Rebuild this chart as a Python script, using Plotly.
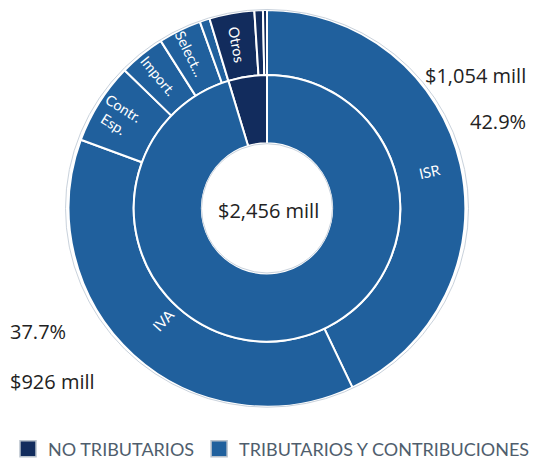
import math
import plotly.graph_objects as go

# ---- data ----
group_labels = ["NO TRIBUTARIOS", "TRIBUTARIOS Y CONTRIBUCIONES"]
group_values = [115, 2341]

item_labels = ["ISR", "IVA", "Contr. Esp.", "Import.", "Selectivo", "Otros tributarios",
               "Otros", "Otros no trib. 1", "Otros no trib. 2"]
item_values = [1054, 926, 163, 92, 86, 20, 90, 17, 8]
item_text = ["ISR", "IVA", "Contr.<br>Esp.", "Import.", "Select...", "", "Otros", "", ""]
item_group = ["T", "T", "T", "T", "T", "T", "N", "N", "N"]

total_label = "$2,456 mill"
isr_amount, isr_pct = "$1,054 mill", "42.9%"
iva_amount, iva_pct = "$926 mill", "37.7%"

# ---- style ----
OFF = 8                      # page body margin
W, H = 538 - OFF, 468 - OFF  # figure size
BLUE = "#20609d"
NAVY = "#122c5d"
cx, cy = 267, 211            # centre in window px (from top-left)
R_OUT, R_MID, R_IN = 201, 135, 66
label_r = [167, 154, 176, 173, 175, 170, 169, 170, 170]

def fx(px):
    return (px - OFF) / W

def fy(py):
    return (H - (py - OFF)) / H

def dom(r):
    return dict(x=[fx(cx - r), fx(cx + r)], y=[fy(cy + r), fy(cy - r)])

fig = go.Figure()

fig.add_trace(go.Pie(
    labels=item_labels, values=item_values,
    textinfo="none", sort=False, direction="clockwise", rotation=0,
    hole=R_MID / R_OUT, domain=dom(R_OUT),
    marker=dict(colors=[BLUE if g == "T" else NAVY for g in item_group],
                line=dict(color="white", width=2)),
    showlegend=False, hoverinfo="label+value",
))

inner_rot = -360.0 * group_values[0] / sum(group_values)
fig.add_trace(go.Pie(
    labels=group_labels, values=group_values,
    textinfo="none", sort=False, direction="clockwise", rotation=inner_rot,
    hole=R_IN / R_MID, domain=dom(R_MID),
    marker=dict(colors=[NAVY, BLUE], line=dict(color="white", width=2)),
    showlegend=False, hoverinfo="label+value",
))

# legend entries
for lab, col in zip(group_labels, [NAVY, BLUE]):
    fig.add_trace(go.Scatter(
        x=[None], y=[None], mode="markers", name=lab,
        marker=dict(symbol="square", size=16, color=col,
                    line=dict(color="#b9c2cc", width=1.5)),
    ))

# radial labels on the outer ring, placed at each slice's mid angle
annotations = []
total = sum(item_values)
cum = 0.0
for txt, v, r in zip(item_text, item_values, label_r):
    mid = (cum + v / 2) / total * 360.0
    cum += v
    if not txt:
        continue
    a = math.radians(mid)
    px = cx + r * math.sin(a)
    py = cy - r * math.cos(a)
    ang = mid - 90 if mid <= 180 else mid - 270
    annotations.append(dict(
        text=txt, x=fx(px), y=fy(py), xref="paper", yref="paper",
        showarrow=False, textangle=ang, xanchor="center", yanchor="middle",
        font=dict(family="Lato", size=14.5, color="white")))

num_font = dict(family="Open Sans", size=20, color="#222222")
def num(text, x, y, anchor):
    return dict(text=text, x=fx(x), y=fy(y), xref="paper", yref="paper",
                showarrow=False, font=num_font, xanchor=anchor, yanchor="middle")

annotations += [
    num(total_label, 268, 213, "center"),
    num(isr_amount, 528, 76, "right"),
    num(isr_pct, 528, 123, "right"),
    num(iva_pct, 8, 336, "left"),
    num(iva_amount, 8, 386, "left"),
]

def circ(r, color):
    return dict(type="circle", xref="paper", yref="paper",
                x0=fx(cx - r), x1=fx(cx + r), y0=fy(cy + r), y1=fy(cy - r),
                line=dict(color=color, width=1), layer="above")

fig.update_layout(
    width=W, height=H,
    margin=dict(l=0, r=0, t=0, b=0),
    paper_bgcolor="white", plot_bgcolor="white",
    xaxis=dict(visible=False), yaxis=dict(visible=False),
    shapes=[circ(R_OUT + 0.5, "#c9d2dc"), circ(R_IN - 0.5, "#c9d2dc")],
    annotations=annotations,
    legend=dict(orientation="h", x=fx(265), xanchor="center", y=fy(455), yanchor="middle",
                font=dict(family="Lato", size=18, color="#4f5e6d"),
                itemsizing="trace", traceorder="normal"),
)

fig.write_html("out.html")
